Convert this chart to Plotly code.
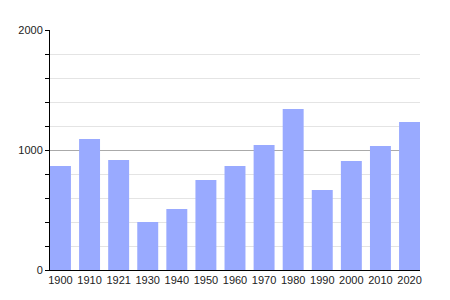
import plotly.graph_objects as go

years = ["1900", "1910", "1921", "1930", "1940", "1950", "1960", "1970", "1980", "1990", "2000", "2010", "2020"]
population = [867, 1092, 917, 400, 508, 750, 867, 1042, 1342, 667, 908, 1033, 1233]

fig = go.Figure(go.Bar(x=years, y=population, marker=dict(color="#99aaff", line=dict(width=0)), hoverinfo="x+y"))

fig.update_layout(
    width=450, height=300,
    margin=dict(l=50, r=30, t=30, b=30),
    paper_bgcolor="white", plot_bgcolor="white",
    bargap=0.28,
    showlegend=False,
    font=dict(family="Liberation Sans, Arial, sans-serif", size=11, color="#222"),
)
fig.update_xaxes(
    type="category", range=[-0.36, 12.36],
    showline=True, linecolor="black", linewidth=1,
    ticks="", showgrid=False, tickfont=dict(size=11),
)
fig.update_yaxes(
    range=[0, 2000], tickvals=[0, 1000, 2000],
    showline=True, linecolor="black", linewidth=1,
    ticks="outside", ticklen=4, tickcolor="black",
    showgrid=True, gridcolor="#aaaaaa", gridwidth=1,
    zeroline=False,
    minor=dict(dtick=200, ticks="outside", ticklen=4, tickcolor="black", showgrid=True, gridcolor="#e4e4e4", gridwidth=1),
    tickfont=dict(size=11),
)

fig.write_html("out.html")
